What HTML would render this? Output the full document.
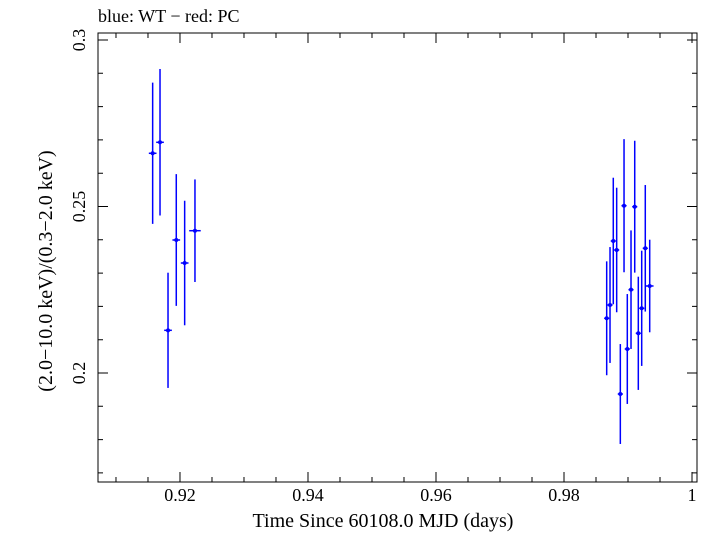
<!DOCTYPE html>
<html><head><meta charset="utf-8"><style>
body{margin:0;background:#fff;width:710px;height:532px;overflow:hidden}
svg text{font-family:"Liberation Serif",serif;fill:#000}
</style></head><body>
<svg id="chart" width="710" height="532" xmlns="http://www.w3.org/2000/svg">
<text x="98" y="22" font-size="18">blue: WT − red: PC</text>
<rect x="98" y="33" width="599" height="449" fill="none" stroke="#000" stroke-width="1"/>
<g id="axes"></g>
<g id="marks"></g>
<text x="383" y="527" font-size="20" text-anchor="middle">Time Since 60108.0 MJD (days)</text>
<text transform="translate(52,271) rotate(-90)" font-size="20" text-anchor="middle">(2.0−10.0 keV)/(0.3−2.0 keV)</text>
</svg>
<script>
const times=[0.91573,0.91688,0.91813,0.91942,0.92073,0.92234,0.98667,0.98719,0.98770,0.98823,0.98880,0.98938,0.98989,0.99047,0.99105,0.99161,0.99214,0.99270,0.99339];
const ratios=[0.26598,0.26928,0.21282,0.23994,0.23303,0.24273,0.21643,0.22042,0.23964,0.23694,0.19369,0.25024,0.20721,0.22502,0.24994,0.21192,0.21943,0.23745,0.22613];
const ratioErr=[0.0212,0.0220,0.0173,0.0198,0.0187,0.0154,0.0171,0.0174,0.0190,0.0187,0.0150,0.0200,0.0165,0.0178,0.0198,0.0170,0.0173,0.0190,0.0139];
const timeErr=[0.0006,0.0006,0.0006,0.0006,0.0006,0.0009,0.0004,0.0004,0.0004,0.0004,0.0004,0.0004,0.0004,0.0004,0.0004,0.0004,0.0004,0.0004,0.0006];
const xTicks=[0.92,0.94,0.96,0.98,1.0];
const xTickLabels=["0.92","0.94","0.96","0.98","1"];
const yTicks=[0.2,0.25,0.3];
const yTickLabels=["0.2","0.25","0.3"];
const X0=98,X1=697,Y0=33,Y1=482;
const xMin=0.90719,xMax=1.00078,yMin=0.16727,yMax=0.30210;
const xs=v=>X0+(v-xMin)/(xMax-xMin)*(X1-X0);
const ys=v=>Y1-(v-yMin)/(yMax-yMin)*(Y1-Y0);
const NS="http://www.w3.org/2000/svg";
function mk(tag,attrs,parent){const e=document.createElementNS(NS,tag);for(const k in attrs)e.setAttribute(k,attrs[k]);parent.appendChild(e);return e;}
const ax=document.getElementById('axes');
for(let v=0.91;v<=1.0001;v+=0.005){const x=xs(v);const major=Math.abs(Math.round(v*50)-v*50)<1e-6;const L=major?10:5;
 const t=mk('path',{d:`M${x},${Y1}v${-L}M${x},${Y0}v${L}`,stroke:'#000','stroke-width':1},ax);
 
 }
for(let v=0.17;v<=0.3001;v+=0.01){const y=ys(v);const major=Math.abs(Math.round(v*20)-v*20)<1e-6;const L=major?10:5;
 const t=mk('path',{d:`M${X0},${y}h${L}M${X1},${y}h${-L}`,stroke:'#000','stroke-width':1},ax);
 
 }
xTicks.forEach((v,i)=>{const t=mk('text',{x:xs(v),y:501,'font-size':18,'text-anchor':'middle'},ax);t.textContent=xTickLabels[i];
 
 });
yTicks.forEach((v,i)=>{const t=mk('text',{transform:`translate(85,${ys(v)}) rotate(-90)`,'font-size':18,'text-anchor':'middle'},ax);t.textContent=yTickLabels[i];
 
 });
const mg=document.getElementById('marks');
times.forEach((t,i)=>{const x=xs(t),y=ys(ratios[i]);
 const g=mk('g',{},mg);
 
 
 mk('line',{x1:x,x2:x,y1:ys(ratios[i]+ratioErr[i]),y2:ys(ratios[i]-ratioErr[i]),stroke:'#0000ff','stroke-width':1.5},g);
 mk('line',{x1:xs(t-timeErr[i]),x2:xs(t+timeErr[i]),y1:y,y2:y,stroke:'#0000ff','stroke-width':1.5},g);
 mk('circle',{cx:x,cy:y,r:2,fill:'#0000ff'},g);
});
</script>
</body></html>
